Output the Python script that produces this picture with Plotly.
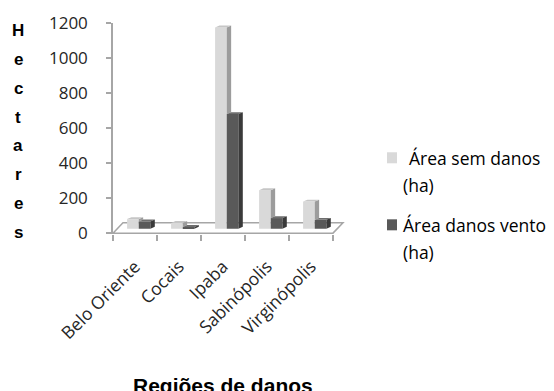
import plotly.graph_objects as go

# Data (hectares per region)
regioes = ["Belo Oriente", "Cocais", "Ipaba", "Sabinópolis", "Virginópolis"]
area_sem_danos = [55, 33, 1150, 220, 155]
area_danos_vento = [42, 10, 655, 61, 51]
y_ticks = [0, 200, 400, 600, 800, 1000, 1200]
serie_nomes = ["Área sem danos", "Área danos vento"]

# Colours: front, side and top faces of each series
LIGHT = ("#d9d9d9", "#9c9c9c", "#c6c6c6")
DARK = ("#595959", "#3a3a3a", "#6e6e6e")
GRID = "#a6a6a6"
TXT = "#262626"

# Pseudo-3D column geometry (x in category units, y in hectares)
BAR_W = 0.265
LIGHT_OFF = -0.18
DARK_OFF = LIGHT_OFF + BAR_W
DX = 0.1          # depth shift to the right
DY = 11           # depth shift upward
FLOOR_LIFT = 25   # columns stand in the middle of the floor depth
FLOOR_BACK = 59
FLOOR_SHIFT = 0.227

# Plot frame in pixels
W_PX, H_PX = 554, 391
L, R, T = 113, 344, 23.3
Y_MIN, Y_MAX = -5, 1200
PX_PER_HA = 0.175
B = T + (Y_MAX - Y_MIN) * PX_PER_HA
X_MIN, X_MAX = -0.5, 4.75


def px_x(xp):
    return (xp - L) / (R - L)


def px_y(yp):
    return (B - yp) / (B - T)


def dx_paper(xv):
    return (xv - X_MIN) / (X_MAX - X_MIN)


def dy_paper(yv):
    return (yv - Y_MIN) / (Y_MAX - Y_MIN)


xs = list(range(len(regioes)))
separadores = [i - 0.5 for i in range(len(regioes) + 1)]

fig = go.Figure()

# Front faces of the columns
fig.add_trace(go.Bar(x=xs, y=area_sem_danos, base=FLOOR_LIFT, width=BAR_W, offset=LIGHT_OFF,
                     marker=dict(color=LIGHT[0], line=dict(width=0)),
                     name=serie_nomes[0], showlegend=False))
fig.add_trace(go.Bar(x=xs, y=area_danos_vento, base=FLOOR_LIFT, width=BAR_W, offset=DARK_OFF,
                     marker=dict(color=DARK[0], line=dict(width=0)),
                     name=serie_nomes[1], showlegend=False))


def polys(build):
    px_, py_ = [], []
    for i in xs:
        pts = build(i)
        for (a, b) in pts + [pts[0]]:
            px_.append(a)
            py_.append(b)
        px_.append(None)
        py_.append(None)
    return px_, py_


def face_trace(build, color):
    x_, y_ = polys(build)
    return go.Scatter(x=x_, y=y_, mode="lines", fill="toself", fillcolor=color,
                      line=dict(width=0, color=color), hoverinfo="skip",
                      showlegend=False)


def light_side(i):
    x1 = i + LIGHT_OFF + BAR_W
    lo = FLOOR_LIFT + min(area_danos_vento[i], area_sem_danos[i])
    v = FLOOR_LIFT + area_sem_danos[i]
    return [(x1, lo), (x1, v), (x1 + DX, v + DY), (x1 + DX, lo + DY)]


def light_top(i):
    x0 = i + LIGHT_OFF
    x1 = x0 + BAR_W
    v = FLOOR_LIFT + area_sem_danos[i]
    return [(x0, v), (x1, v), (x1 + DX, v + DY), (x0 + DX, v + DY)]


def dark_top(i):
    x0 = i + DARK_OFF
    x1 = x0 + BAR_W
    v = FLOOR_LIFT + area_danos_vento[i]
    return [(x0, v), (x1, v), (x1 + DX, v + DY), (x0 + DX, v + DY)]


def dark_side(i):
    x1 = i + DARK_OFF + BAR_W
    v = FLOOR_LIFT + area_danos_vento[i]
    return [(x1, FLOOR_LIFT), (x1, v), (x1 + DX, v + DY), (x1 + DX, FLOOR_LIFT + DY)]


fig.add_trace(face_trace(light_side, LIGHT[1]))
fig.add_trace(face_trace(light_top, LIGHT[2]))
fig.add_trace(face_trace(dark_top, DARK[2]))
fig.add_trace(face_trace(dark_side, DARK[1]))

# Invisible trace that keeps the separator axis (x2) alive
fig.add_trace(go.Scatter(x=[X_MIN, X_MAX], y=[Y_MIN, Y_MIN], xaxis="x2", mode="lines",
                         line=dict(width=0), hoverinfo="skip", showlegend=False))

# Floor of the 3D plot: front edge, slanted sides and back edge
x_end = len(regioes) - 0.5
floor_pts = [(X_MIN, 0), (x_end, 0), (x_end + FLOOR_SHIFT, FLOOR_BACK),
             (X_MIN + FLOOR_SHIFT, FLOOR_BACK)]
floor_path = "M " + " L ".join(f"{dx_paper(a):.4f},{dy_paper(b):.4f}" for a, b in floor_pts) + " Z"
fig.add_shape(type="path", path=floor_path, xref="paper", yref="paper", layer="below",
              line=dict(color=GRID, width=1.5), fillcolor="rgba(0,0,0,0)")

# Axis title "Hectares" written as a vertical column of letters
annotations = []
for k, ch in enumerate("Hectares"):
    annotations.append(dict(text=f"<b>{ch}</b>", x=px_x(18), y=px_y(31 + k * 28.8),
                            xref="paper", yref="paper", showarrow=False,
                            xanchor="center", yanchor="middle",
                            font=dict(family="Liberation Sans, Arial", size=17, color="#000")))

# Bottom title
annotations.append(dict(text="<b>Regiões de danos</b>", x=px_x(223), y=px_y(372),
                        xref="paper", yref="paper", showarrow=False,
                        xanchor="center", yanchor="top",
                        font=dict(family="Liberation Sans, Arial", size=21, color="#000")))

# Legend drawn by hand: square swatch + two text lines per series
leg_font = dict(family="Open Sans, Liberation Sans", size=17.5, color="#000")
legend_items = [
    (LIGHT[0], [serie_nomes[0], "(ha)"], 158, 407),
    (DARK[0], [serie_nomes[1], "(ha)"], 225, 401),
]
for color, lines, yc, xt in legend_items:
    fig.add_shape(type="rect", xref="paper", yref="paper",
                  x0=px_x(387), x1=px_x(397), y0=px_y(yc - 5.5), y1=px_y(yc + 5.5),
                  fillcolor=color, line=dict(width=0))
    for j, t in enumerate(lines):
        annotations.append(dict(text=t, x=px_x(xt if j == 0 else 401), y=px_y(yc + 27 * j),
                                xref="paper", yref="paper", showarrow=False,
                                xanchor="left", yanchor="middle", font=leg_font))

fig.update_layout(
    width=W_PX, height=H_PX,
    margin=dict(l=L, r=W_PX - R, t=T, b=H_PX - B, pad=0),
    paper_bgcolor="white", plot_bgcolor="white",
    barmode="overlay",
    showlegend=False,
    annotations=annotations,
    font=dict(family="Open Sans, Liberation Sans", color=TXT),
    xaxis=dict(
        range=[X_MIN, X_MAX], showgrid=False, zeroline=False, showline=False,
        tickmode="array", tickvals=xs, ticktext=regioes, tickangle=-45,
        ticks="", ticklabelstandoff=18,
        tickfont=dict(family="Open Sans, Liberation Sans", size=17.5, color=TXT),
    ),
    # second x axis carrying only the category separator ticks
    xaxis2=dict(
        overlaying="x", anchor="y", side="bottom", range=[X_MIN, X_MAX],
        showgrid=False, zeroline=False, showline=False, showticklabels=False,
        tickmode="array", tickvals=separadores,
        ticks="outside", ticklen=6, tickwidth=1.5, tickcolor=GRID,
    ),
    yaxis=dict(
        range=[Y_MIN, Y_MAX], showgrid=False, zeroline=False,
        showline=True, linecolor=GRID, linewidth=1.5,
        tickmode="array", tickvals=y_ticks, ticks="outside", ticklen=5,
        tickcolor=GRID, tickwidth=1.5, ticklabelstandoff=15,
        tickfont=dict(family="Open Sans, Liberation Sans", size=17, color=TXT),
    ),
)

fig.write_html("out.html")
